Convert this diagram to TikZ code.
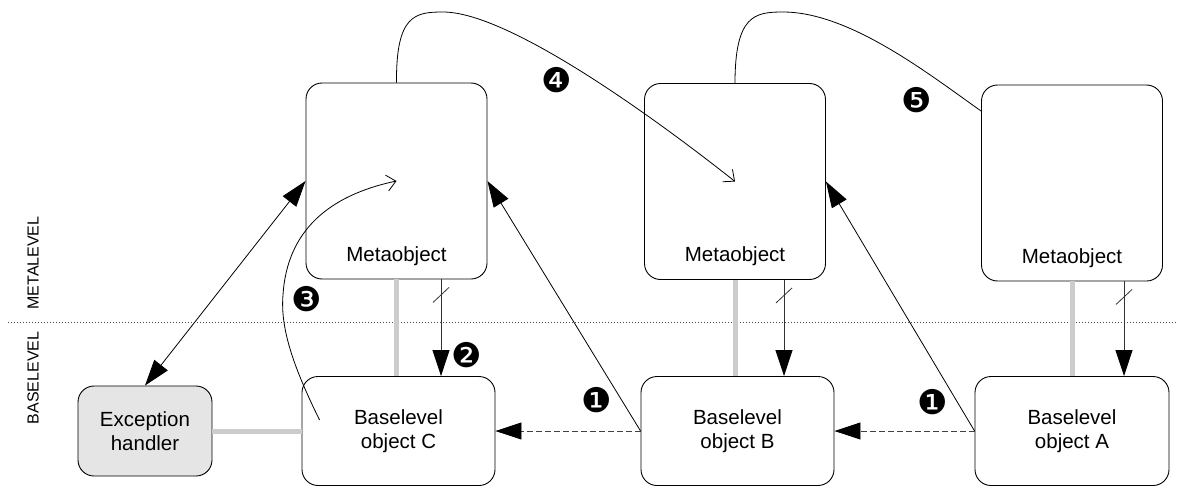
\documentclass[tikz,border=0pt]{standalone}
\usepackage{fontspec}
\setmainfont{Liberation Sans}
\newfontfamily\dingfont{DejaVu Sans}
\usetikzlibrary{arrows.meta,calc}
\begin{document}
\begin{tikzpicture}[x=1pt,y=-1pt,
 box/.style={draw, line width=0.9pt, rounded corners=16pt, inner sep=0pt, align=center, font=\fontsize{20.5}{24}\selectfont},
 metabox/.style={box, minimum width=181pt, minimum height=196pt,
   label={[anchor=base,yshift=18pt,font=\fontsize{20.5}{24}\selectfont]south:Metaobject}},
 basebox/.style={box, minimum width=193pt, minimum height=109pt},
 link/.style={line width=5pt, draw=black!20},
 conn/.style={line width=0.8pt},
 bigtip/.style={-{Triangle[length=26pt,width=17pt,color=black]}},
 opentip/.style={-{Straight Barb[length=9pt,width=16pt]}},
 num/.style={font=\dingfont\fontsize{34}{34}\selectfont, inner sep=0pt},
 lvl/.style={font=\fontsize{16}{16}\selectfont, rotate=90, inner sep=0pt},
]
\useasboundingbox (0,0) rectangle (1177,487);

% separator
\coordinate (sepL) at (8,322);
\coordinate (sepR) at (1177,322);
\draw[black!70, line width=0.8pt, dash pattern=on 1.2pt off 1.8pt] (sepL) -- (sepR);
\node[lvl] (metalbl) at (33,263) {METALEVEL};
\node[lvl] (baselbl) at (33,378) {BASELEVEL};

% boxes
\node[metabox] (M1) at (396.5,181) {};
\node[metabox] (M2) at (735,181.5) {};
\node[metabox] (M3) at (1072,183) {};
\node[basebox] (C) at (398.5,431) {Baselevel\\object C};
\node[basebox] (B) at (737.5,431) {Baselevel\\object B};
\node[basebox, minimum width=194pt] (A) at (1072,431) {Baselevel\\object A};
\node[box, fill=black!10, minimum width=134pt, minimum height=90pt] (E) at (145,431) {Exception\\handler};

% gray links
\draw[link] (M1.south) -- (M1.south |- C.north);
\draw[link] (M2.south) -- (M2.south |- B.north);
\draw[link] (M3.south) -- (M3.south |- A.north);
\draw[link] (E.east) -- (C.west);

% down arrows with slash
\foreach \m/\b/\dx in {M1/C/44.5, M2/B/49, M3/A/52}{
  \coordinate (\m-d) at ($(\m.south)+(\dx,0)$);
  \draw[conn, black!80, bigtip] (\m-d) -- (\m-d |- \b.north);
  \draw[conn, black!80] ($(\m-d)+(-8,23)$) -- ($(\m-d)+(8,8)$);
}

% dashed arrows
\draw[conn, black!75, dash pattern=on 6pt off 3pt, bigtip] (B.west) -- (C.east);
\draw[conn, black!75, dash pattern=on 6pt off 3pt, bigtip] (A.west) -- (B.east);

% solid diagonal arrows
\draw[conn, bigtip] (B.west) -- (M1.east);
\draw[conn, bigtip] (A.west) -- (M2.east);

% double arrow
\draw[conn, {Triangle[length=26pt,width=17pt]}-{Triangle[length=26pt,width=17pt]}] (E.north) -- (M1.west);

% curve 3
\coordinate (c3s) at ($(C.west)+(18,-11)$);
\draw[conn, opentip] (c3s) .. controls (295,370) and (280,330) .. (283,295)
   .. controls (287,230) and (330,195) .. (M1.center);

% curve 4
\draw[conn, opentip] (M1.north) .. controls (396,15) and (415,12) .. (443,12)
   .. controls (510,12) and (660,122) .. (M2.center);

% curve 5
\coordinate (c5e) at ($(M3.west)+(0,-72)$);
\draw[conn] (M2.north) .. controls (735,15) and (755,12) .. (783,12)
   .. controls (850,12) and (930,75) .. (c5e);

% numbers
\node[num] (n1a) at (597,400) {❶};
\node[num] (n1b) at (933,402) {❶};
\node[num] (n2) at (467,355) {❷};
\node[num] (n3) at (307,299) {❸};
\node[num] (n4) at (557,80) {❹};
\node[num] (n5) at (917,100) {❺};
\end{tikzpicture}
\end{document}
